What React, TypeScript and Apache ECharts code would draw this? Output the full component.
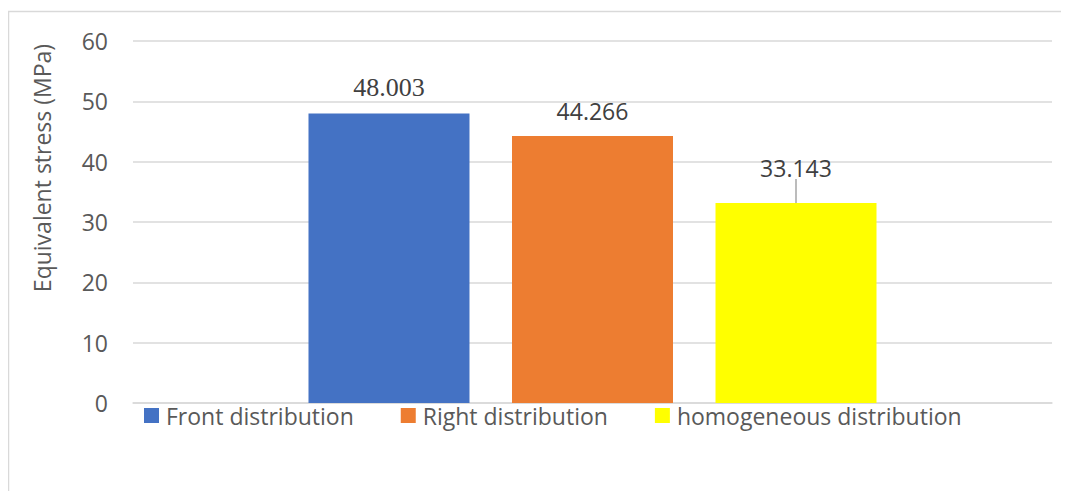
import React, { useEffect, useRef } from "react";
import * as echarts from "echarts";

const categories = [""];
const seriesNames = ["Front distribution", "Right distribution", "homogeneous distribution"];
const frontValues = [48.003];
const rightValues = [44.266];
const homogeneousValues = [33.143];
const seriesColors = ["#4472C4", "#ED7D31", "#FFFF00"];
const yTicks = { min: 0, max: 60, interval: 10 };
const axisTitle = "Equivalent stress (MPa)";

const SANS = "Open Sans";
const SERIF = "Liberation Serif";

export default function App() {
  const ref = useRef<HTMLDivElement>(null);
  useEffect(() => {
    if (!ref.current) return;
    const chart = echarts.init(ref.current, null, { renderer: "svg" });
    const valueSets = [frontValues, rightValues, homogeneousValues];
    const labelFor = (i: number) =>
      i === 0
        ? {
            show: true,
            position: "top",
            distance: 13,
            formatter: "{s|{c}}",
            rich: { s: { fontFamily: SERIF, fontSize: 26, color: "#404040" } },
          }
        : {
            show: true,
            position: "top",
            distance: 13,
            color: "#404040",
            fontSize: 23,
            fontFamily: SANS,
          };
    chart.setOption({
      animation: false,
      backgroundColor: "#ffffff",
      graphic: [
        {
          type: "rect",
          shape: { x: 0.5, y: 3.5, width: 1200, height: 700 },
          style: { fill: "none", stroke: "#d9d9d9", lineWidth: 1.5 },
          silent: true,
          z: -10,
        },
        {
          type: "text",
          x: 34,
          y: 160,
          rotation: Math.PI / 2,
          style: {
            text: axisTitle,
            fontSize: 23,
            fontFamily: SANS,
            fill: "#595959",
            align: "center",
            verticalAlign: "middle",
          },
        },
      ],
      grid: { left: 125, right: 17, top: 33, bottom: 88, containLabel: false },
      legend: {
        left: 136,
        top: 396,
        padding: 0,
        itemWidth: 15,
        itemHeight: 15,
        itemGap: 47,
        icon: "rect",
        textStyle: { color: "#595959", fontSize: 23, fontFamily: SANS, padding: [0, 0, 0, 2] },
        data: seriesNames,
      },
      xAxis: {
        type: "category",
        data: categories,
        axisTick: { show: false },
        axisLabel: { show: false },
        axisLine: { lineStyle: { color: "#d9d9d9", width: 1.5 } },
      },
      yAxis: {
        type: "value",
        min: yTicks.min,
        max: yTicks.max,
        interval: yTicks.interval,
        axisLine: { show: false },
        axisTick: { show: false },
        splitLine: { lineStyle: { color: "#d9d9d9", width: 1.5 } },
        axisLabel: { color: "#595959", fontSize: 23, fontFamily: SANS, margin: 25 },
      },
      series: seriesNames.map((name, i) => ({
        name,
        type: "bar",
        data: valueSets[i],
        barWidth: 161,
        barGap: "26.4%",
        itemStyle: { color: seriesColors[i] },
        label: labelFor(i),
        labelLayout: i === 2 ? { dy: -11 } : undefined,
        labelLine: i === 2 ? { show: true, lineStyle: { color: "#a6a6a6", width: 1.5 } } : undefined,
      })),
    });
    return () => chart.dispose();
  }, []);
  return <div ref={ref} style={{ width: 1061, height: 483 }} />;
}
